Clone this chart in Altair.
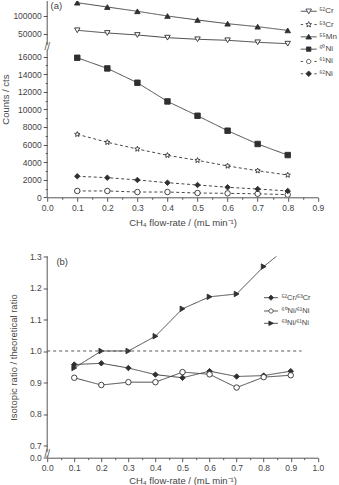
import math
import altair as alt
import pandas as pd

FONT = "Liberation Sans"
INK = "#2f2f2f"
LINE = "#474747"
AXIS = "#555555"
TXT = "#444444"

# ---------------- panel (a): counts vs CH4 flow ----------------
flow_a = [0.1, 0.2, 0.3, 0.4, 0.5, 0.6, 0.7, 0.8]
cr52 = [59600, 52000, 46300, 38700, 34200, 31300, 25700, 21700]
cr53 = [7160, 6250, 5490, 4770, 4200, 3560, 3020, 2530]
mn55 = [137600, 125400, 113300, 100000, 88700, 78200, 69800, 59300]
ni60 = [15860, 14650, 13020, 10900, 9270, 7570, 6060, 4800]
ni61 = [720, 720, 600, 600, 490, 450, 400, 300]
ni62 = [2390, 2230, 1970, 1660, 1400, 1140, 940, 720]
iso_a = ["⁵²Cr", "⁵³Cr", "⁵⁵Mn", "⁶⁰Ni", "⁶¹Ni", "⁶²Ni"]
vals_a = [cr52, cr53, mn55, ni60, ni61, ni62]

ymajor_a = [0, 2000, 4000, 6000, 8000, 10000, 12000, 14000, 16000, 50000, 100000]
yminor_a = [1000, 3000, 5000, 7000, 9000, 11000, 13000, 15000]
xmajor_a = [0.0, 0.1, 0.2, 0.3, 0.4, 0.5, 0.6, 0.7, 0.8, 0.9]
xminor_a = [0.05, 0.15, 0.25, 0.35, 0.45, 0.55, 0.65, 0.75, 0.85]

# ---------------- panel (b): isotope ratios ----------------
flow_b = [0.1, 0.2, 0.3, 0.4, 0.5, 0.6, 0.7, 0.8, 0.9]
ratio_cr = [0.957, 0.961, 0.946, 0.925, 0.915, 0.936, 0.919, 0.922, 0.936]
ratio_ni60 = [0.915, 0.892, 0.901, 0.901, 0.933, 0.926, 0.884, 0.917, 0.923]
ratio_ni63 = [0.946, 1.0, 1.0, 1.047, 1.134, 1.172, 1.181, 1.268, 1.337]
pairs_b = ["⁵²Cr/⁵³Cr", "⁶⁰Ni/⁶¹Ni", "⁶³Ni/⁶¹Ni"]
vals_b = [ratio_cr, ratio_ni60, ratio_ni63]

ymajor_b = [0.0, 0.7, 0.8, 0.9, 1.0, 1.1, 1.2, 1.3]
xmajor_b = [0.0, 0.1, 0.2, 0.3, 0.4, 0.5, 0.6, 0.7, 0.8, 0.9, 1.0]
xminor_b = [0.05, 0.15, 0.25, 0.35, 0.45, 0.55, 0.65, 0.75, 0.85, 0.95]
theoretical = [1.0]

X_TITLE = "CH₄ flow-rate / (mL min⁻¹)"


def long_table(xs, names, series):
    rows = []
    for name, vals in zip(names, series):
        for x, v in zip(xs, vals):
            rows.append({"flow": x, "value": v, "series": name})
    return pd.DataFrame(rows)


def star_path(cx=0.0, r=1.0, ri=0.45):
    pts = []
    for k in range(10):
        rr = r if k % 2 == 0 else ri
        a = -math.pi / 2 + k * math.pi / 5
        pts.append(f"{cx + rr * math.cos(a):.3f},{rr * math.sin(a):.3f}")
    return "M" + "L".join(pts) + "Z"


STAR = star_path()
CIRC_L = "M0.45,0A0.55,0.55 0 1 0 1.55,0A0.55,0.55 0 1 0 0.45,0Z"

# plot markers / line styles (a)
shapes_a = ["triangle-down", STAR, "triangle-up", "square", "circle", "diamond"]
fills_a = ["white", "white", INK, INK, "white", INK]
dash_a = [[1, 0], [3, 2.5], [1, 0], [1, 0], [3, 2.5], [3, 2.5]]
legpath_a = [
    "M-1,0H0.6M1.4,0H3M0.3,-0.55L1.7,-0.55L1,0.65Z",
    "M-1,0H-0.4M2.4,0H3" + star_path(1.0, 0.75, 0.33),
    "M-1,0H3M0.3,0.55L1.7,0.55L1,-0.65Z",
    "M-1,0H3M0.45,-0.55H1.55V0.55H0.45Z",
    "M-1,0H-0.4M2.4,0H3" + CIRC_L,
    "M-1,0H-0.4M2.4,0H3M1,-0.7L1.7,0L1,0.7L0.3,0Z",
]

# plot markers / line styles (b)
shapes_b = ["diamond", "circle", "triangle-right"]
fills_b = [INK, "white", INK]
dash_b = [[1, 0], [1, 0], [1, 0]]
legpath_b = [
    "M-1,0H3M1,-0.75L1.7,0L1,0.75L0.3,0Z",
    "M-1,0H0.4M1.6,0H3M0.4,0A0.6,0.6 0 1 0 1.6,0A0.6,0.6 0 1 0 0.4,0Z",
    "M-1,0H3M0.4,-0.65L1.7,0L0.4,0.65Z",
]

# broken (piecewise) y scales
ydom_a = [0, 16800, 18000, 142400]
yrng_a = [196.3, 48.5, 44.0, 0]
ydom_b = [0, 0.02, 0.68, 1.3]
yrng_b = [201.2, 199.0, 195.3, 0]

W = 270.6


def x_axis(major, minor, tpad):
    odd = "round(datum.value*20) % 2 == 1"
    return alt.Axis(
        values=sorted(major + minor),
        labelExpr=f"{odd} ? '' : format(datum.value, '.1f')",
        tickSize={"condition": {"test": odd, "value": 2}, "value": 4},
        title=X_TITLE, titlePadding=tpad, labelPadding=2,
        labelFlush=False, labelOverlap=False, grid=False,
    )


def make_panel(df, names, xdom, xaxis, ydom, yrng, yaxis, dashes, shapes, fills,
               legpaths, legend, height, brk_text_y, tag, tag_xy, extra):
    xs = alt.Scale(domain=xdom, nice=False, zero=False)
    ys = alt.Scale(domain=ydom, range=yrng, nice=False, zero=False)

    def X(f):
        return alt.X(f, type="quantitative", scale=xs, axis=xaxis)

    def Y(f):
        return alt.Y(f, type="quantitative", scale=ys, axis=yaxis)

    lines = alt.Chart(df).mark_line(color=LINE, strokeWidth=1, clip=True).encode(
        x=X("flow"), y=Y("value"),
        strokeDash=alt.StrokeDash("series:N", scale=alt.Scale(domain=names, range=dashes), legend=None),
    )
    pts = alt.Chart(df).mark_point(stroke=INK, strokeWidth=0.9, size=30, opacity=1, clip=True).encode(
        x=X("flow"), y=Y("value"),
        shape=alt.Shape("series:N", scale=alt.Scale(domain=names, range=shapes), legend=None),
        fill=alt.Fill("series:N", scale=alt.Scale(domain=names, range=fills), legend=None),
    )
    leg = alt.Chart(df).transform_filter("false").mark_point(
        stroke=INK, strokeWidth=0.8, opacity=1
    ).encode(
        x=X("flow"), y=Y("value"),
        shape=alt.Shape("series:N", scale=alt.Scale(domain=names, range=legpaths), legend=legend),
        fill=alt.Fill("series:N", scale=alt.Scale(domain=names, range=fills), legend=legend),
        stroke=alt.Stroke("series:N", scale=alt.Scale(domain=names, range=[INK] * len(names)), legend=legend),
    )
    segs = pd.DataFrame({"flow": [xdom[0], xdom[0]], "lo": [ydom[0], ydom[2]], "hi": [ydom[1], ydom[3]]})
    axis_rules = alt.Chart(segs).mark_rule(color=AXIS, strokeWidth=1).encode(
        x=X("flow"), y=Y("lo"), y2="hi"
    )
    brk = alt.Chart(pd.DataFrame({"flow": [xdom[0]], "value": [brk_text_y]})).mark_text(
        text="//", fontSize=10, color=AXIS, align="center", baseline="middle"
    ).encode(x=X("flow"), y=Y("value"))
    lab = alt.Chart(pd.DataFrame({"flow": [tag_xy[0]], "value": [tag_xy[1]], "t": [tag]})).mark_text(
        fontSize=9.5, color=TXT, align="left", baseline="middle"
    ).encode(x=X("flow"), y=Y("value"), text="t:N")
    layers = [lines, pts, leg, axis_rules, brk, lab]
    for e in extra:
        layers.append(e(X, Y))
    return alt.layer(*layers).resolve_scale(
        shape="independent", fill="independent", stroke="independent"
    ).properties(width=W, height=height)


df_a = long_table(flow_a, iso_a, vals_a)
df_b = long_table(flow_b, pairs_b, vals_b)

yaxis_a = alt.Axis(
    values=sorted(ymajor_a + yminor_a),
    labelExpr="datum.value < 17000 && datum.value % 2000 != 0 ? '' : format(datum.value, 'd')",
    tickSize={"condition": {"test": "datum.value < 17000 && datum.value % 2000 != 0", "value": 2}, "value": 4},
    domain=False, grid=False, labelFlush=False, labelOverlap=False, labelPadding=2,
    title="Counts / cts", titleX=-37,
)
yaxis_b = alt.Axis(
    values=ymajor_b, format=".1f", tickSize=4, domain=False, grid=False,
    labelFlush=False, labelOverlap=False, labelPadding=2,
    title="Isotopic ratio / theoretical ratio", titleX=-29,
)

legend_a = alt.Legend(
    title=None, orient="none", legendX=253, legendY=5.75, direction="vertical",
    symbolSize=64, symbolStrokeWidth=0.8, symbolStrokeColor=INK,
    labelOffset=10, labelFontSize=8, labelColor=TXT, rowPadding=3.3, padding=0,
)
legend_b = alt.Legend(
    title=None, orient="none", legendX=216.3, legendY=37.2, direction="vertical",
    symbolSize=49, symbolStrokeWidth=0.8, symbolStrokeColor=INK,
    labelOffset=10, labelFontSize=7.5, labelColor=TXT, rowPadding=4.3, padding=0,
)


def ref_line(X, Y):
    d = pd.DataFrame({"flow": [0.0], "flow2": [0.94], "value": theoretical})
    return alt.Chart(d).mark_rule(color=AXIS, strokeWidth=1, strokeDash=[3, 3]).encode(
        x=X("flow"), x2="flow2", y=Y("value")
    )


panel_a = make_panel(df_a, iso_a, [0, 0.9], x_axis(xmajor_a, xminor_a, 5.75), ydom_a, yrng_a, yaxis_a,
                     dash_a, shapes_a, fills_a, legpath_a, legend_a, 196.3, 17400, "(a)",
                     (0.011, 128500), [])
panel_b = make_panel(df_b, pairs_b, [0, 1.0], x_axis(xmajor_b, xminor_b, 3.0), ydom_b, yrng_b, yaxis_b,
                     dash_b, shapes_b, fills_b, legpath_b, legend_b, 201.2, 0.35, "(b)",
                     (0.034, 1.281), [ref_line])

chart = alt.vconcat(panel_a, panel_b, spacing=58.5, bounds="flush").resolve_scale(
    x="independent", y="independent", shape="independent", fill="independent",
    stroke="independent", strokeDash="independent"
).properties(
    padding={"left": 0.2, "top": 0, "right": 0, "bottom": 0}
).configure_view(stroke=None).configure_axis(
    labelFont=FONT, titleFont=FONT, labelFontSize=8.5, titleFontSize=9.5,
    labelColor=TXT, titleColor=TXT, titleFontWeight="normal",
    tickColor=AXIS, domainColor=AXIS, grid=False,
).configure_legend(labelFont=FONT).configure_text(font=FONT)

chart.save("out.html", embed_options={"renderer": "svg", "actions": False})
